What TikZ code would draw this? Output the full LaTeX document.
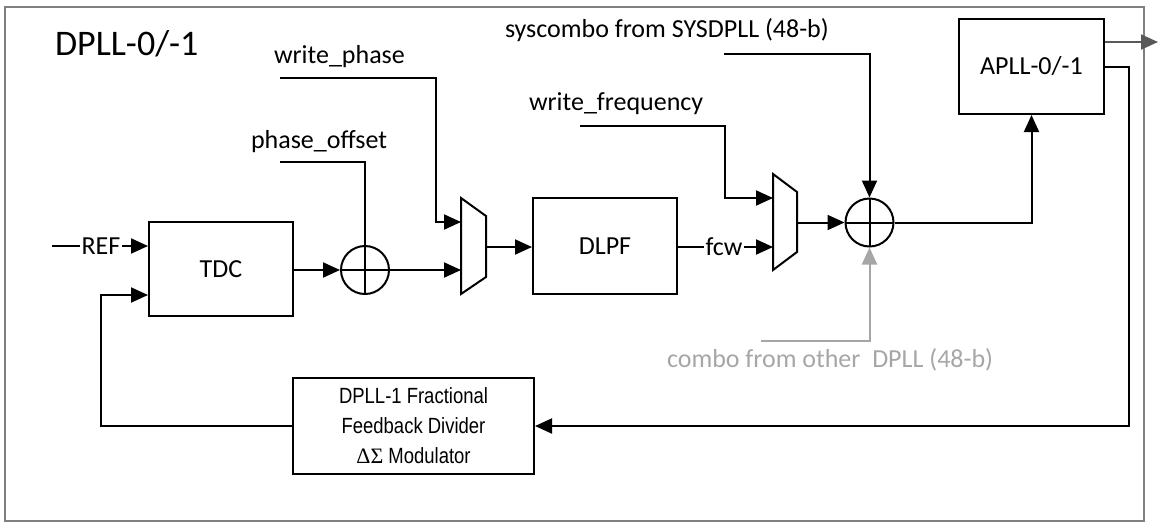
\documentclass[tikz,border=0pt]{standalone}
\usepackage{fontspec}
\setmainfont{Carlito}
\newfontfamily\narrowfont[FakeStretch=0.84]{Liberation Sans}
\newfontfamily\greekserif{Liberation Serif}
\usetikzlibrary{arrows.meta}
\definecolor{framegray}{HTML}{808080}
\definecolor{outgray}{HTML}{595959}
\definecolor{lightgray}{HTML}{A6A6A6}
\begin{document}
\begin{tikzpicture}[x=1pt,y=-1pt,line width=2pt,
  arr/.style={-{Triangle[length=17pt,width=15pt]}},
  blk/.style={draw,line width=2pt,inner sep=0pt,font=\fontsize{26}{30}\selectfont},
  lbl/.style={inner sep=0pt,font=\fontsize{26}{30}\selectfont},
  sumnode/.style={draw,circle,line width=2pt,minimum size=48pt,inner sep=0pt,
    path picture={\draw[line width=2pt] (path picture bounding box.north) -- (path picture bounding box.south)
      (path picture bounding box.west) -- (path picture bounding box.east);}},
  muxshape/.style={draw,line width=2pt,line join=miter},
]
\useasboundingbox (0,0) rectangle (1159,523);
% frame
\draw[framegray,line width=1.5pt] (5,7) rectangle (1144,521);
\node[anchor=base west,inner sep=0pt,font=\fontsize{36}{40}\selectfont] (title) at (54,55) {DPLL-0/-1};

% blocks
\node[blk,minimum width=144pt,minimum height=94pt] (tdc) at (221,269) {TDC};
\node[blk,minimum width=144pt,minimum height=96pt] (dlpf) at (605,246) {DLPF};
\node[blk,minimum width=145pt,minimum height=95pt] (apll) at (1031.5,66.5) {APLL-0/-1};
\node[draw,line width=2pt,minimum width=241pt,minimum height=96pt,align=center,
  font=\narrowfont\fontsize{22}{30}\selectfont] (div) at (413.5,426)
  {DPLL-1 Fractional\\Feedback Divider\\{\greekserif ΔΣ} Modulator};

% summing junctions
\node[sumnode] (s1) at (365,270) {};
\node[sumnode] (s2) at (869.5,222.5) {};

% muxes
\draw[muxshape] (461,198) -- (486,216) -- (486,277) -- (461,294) -- cycle;
\coordinate (m1a) at (461,222);
\coordinate (m1b) at (461,270);
\coordinate (m1o) at (486,247);
\draw[muxshape] (773,174) -- (797,192) -- (797,252) -- (773,270) -- cycle;
\coordinate (m2a) at (773,198);
\coordinate (m2b) at (773,247);
\coordinate (m2o) at (797,222.5);

% labels
\node[lbl,anchor=base west] (wpl) at (273,63) {write\_phase};
\node[lbl,anchor=base west] (pol) at (250,148) {phase\_offset};
\node[lbl,anchor=base west] (scl) at (504,37) {syscombo from SYSDPLL (48-b)};
\node[lbl,anchor=base west] (wfl) at (528,110) {write\_frequency};
\node[lbl,anchor=base west,text=lightgray] (cbl) at (666,367) {combo from other\ \ DPLL (48-b)};
\node[lbl] (ref) at (101,246) {REF};
\node[lbl] (fcw) at (724,247) {fcw};

% signal start coordinates
\coordinate (refs) at (52,246);
\coordinate (po) at (280,162);
\coordinate (wp) at (280,78);
\coordinate (wpbend) at (436,78);
\coordinate (wf) at (580,126);
\coordinate (wfbend) at (725,126);
\coordinate (sc) at (724,54);
\coordinate (cb) at (761,341);
\coordinate (outc) at (1158,42);
\coordinate (fbcorner) at (1129,426);
\coordinate (fbleft) at (101,426);
\coordinate (tdcfb) at (148,295);

% connectors
\draw (refs) -- ([xshift=-1pt]ref.west);
\draw[arr] ([xshift=1pt]ref.east) -- (tdc.west |- ref);
\draw[arr] (tdc.east |- s1) -- (s1.west);
\draw (po) -| (s1.north);
\draw[arr] (s1.east) -- (m1b);
\draw[arr] (wp) -- (wpbend) |- (m1a);
\draw[arr] (m1o) -- (dlpf.west |- m1o);
\draw (dlpf.east |- fcw) -- ([xshift=-1pt]fcw.west);
\draw[arr] ([xshift=1pt]fcw.east) -- (m2b);
\draw[arr] (wf) -- (wfbend) |- (m2a);
\draw[arr] (m2o) -- (s2.west);
\draw[arr] (sc) -| (s2.north);
\draw[arr,lightgray] (cb) -| (s2.south);
\draw[arr] (s2.east) -| (apll.south);
\draw[arr,outgray] (apll.east |- outc) -- (outc);
\draw[arr] (apll.east) -| (fbcorner) -- (div.east);
\draw[arr] (div.west) -- (fbleft) |- (tdcfb);
\end{tikzpicture}
\end{document}
